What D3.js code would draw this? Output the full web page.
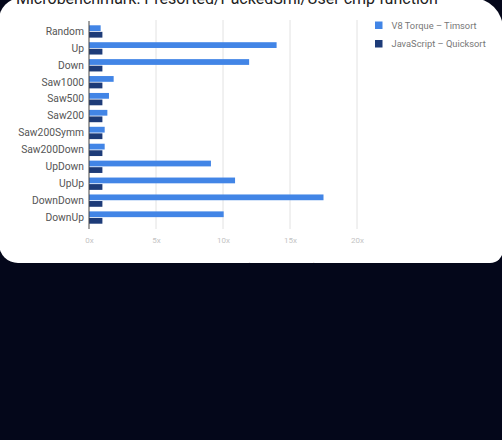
<!DOCTYPE html>
<html>
<head>
<meta charset="utf-8">
<script src="https://cdn.jsdelivr.net/npm/d3@7"></script>
<style>
  html, body { margin: 0; padding: 0; background: #04071a; }
  svg { display: block; font-family: Roboto, "Noto Sans", sans-serif; }
</style>
</head>
<body>
<svg id="chart" width="502" height="440"></svg>
<script>
// data (speedup relative to quicksort)
const categories = ['Random', 'Up', 'Down', 'Saw1000', 'Saw500', 'Saw200', 'Saw200Symm',
  'Saw200Down', 'UpDown', 'UpUp', 'DownDown', 'DownUp']
const timsort = [0.87, 14.0, 11.95, 1.84, 1.49, 1.37, 1.17, 1.17, 9.1, 10.9, 17.5, 10.05]
const quicksort = [1, 1, 1, 1, 1, 1, 1, 1, 1, 1, 1, 1]
const seriesNames = ['V8 Torque – Timsort', 'JavaScript – Quicksort']
const seriesColors = ['#4285e6', '#1d3b78']
const xTicks = [0, 5, 10, 15, 20]

const svg = d3.select('#chart')

// dark slide background
svg.append('rect')
  .attr('width', 502).attr('height', 440)
  .attr('fill', '#04071a')

// white card, corners a bit uneven like the photographed slide
const card = d3.path()
card.moveTo(-1, 20)
card.arcTo(-1, -2, 21, -2, 22)
card.lineTo(472, -2)
card.arcTo(503, -2, 503, 29, 31)
card.lineTo(503, 250)
card.arcTo(503, 263, 490, 263, 13)
card.lineTo(18, 263)
card.arcTo(-1, 263, -1, 244, 19)
card.closePath()
svg.append('path')
  .attr('d', card.toString())
  .attr('fill', '#ffffff')

// title, cut at the top like the slide
svg.append('text')
  .attr('x', 16).attr('y', 4)
  .attr('font-size', 16)
  .attr('fill', '#222')
  .text('Microbenchmark: Presorted/PackedSmi/User cmp function')

const x = d3.scaleLinear().domain([0, 20]).range([89, 357])
const y = d3.scaleBand().domain(categories).range([23, 226])
const sub = d3.scaleBand().domain([0, 1]).range([0, y.bandwidth()]).paddingInner(0.12).paddingOuter(0.35)

// gridlines
svg.append('g').selectAll('line')
  .data(xTicks.slice(1))
  .enter()
  .append('line')
  .attr('x1', d => x(d)).attr('x2', d => x(d))
  .attr('y1', 20).attr('y2', 229)
  .attr('stroke', '#e2e2e2')
  .attr('stroke-width', 1)

// bars
const groups = svg.append('g').selectAll('g')
  .data(categories)
  .enter()
  .append('g')
  .attr('transform', d => `translate(0,${y(d)})`)

groups.append('rect')
  .attr('x', x(0))
  .attr('y', sub(0))
  .attr('width', (d, i) => x(timsort[i]) - x(0))
  .attr('height', sub.bandwidth())
  .attr('fill', seriesColors[0])

groups.append('rect')
  .attr('x', x(0))
  .attr('y', sub(1))
  .attr('width', (d, i) => x(quicksort[i]) - x(0))
  .attr('height', sub.bandwidth())
  .attr('fill', seriesColors[1])

// y axis
const yAxis = svg.append('g')
  .attr('transform', `translate(${x(0)},0)`)
  .call(d3.axisLeft(y).tickSize(0).tickPadding(5))
yAxis.select('.domain').attr('stroke', '#444').attr('d', 'M0,21V229')
yAxis.selectAll('text').attr('font-size', 10.3).attr('fill', '#555').attr('font-family', 'Roboto, sans-serif')

// x axis labels
const xAxis = svg.append('g')
  .attr('transform', 'translate(0,229)')
  .call(d3.axisBottom(x).tickValues(xTicks).tickFormat(d => d + 'x').tickSize(0).tickPadding(8))
xAxis.select('.domain').remove()
xAxis.selectAll('text').attr('font-size', 8).attr('fill', '#c4c4c4').attr('font-family', 'Roboto, sans-serif')

// x axis title (mostly hidden by the dark area)
svg.append('text')
  .attr('x', 223).attr('y', 270)
  .attr('text-anchor', 'middle')
  .attr('font-size', 9.5)
  .attr('fill', '#777')
  .text('Speedup of Torque Timsort (higher is better)')

// legend
const legend = svg.append('g').selectAll('g')
  .data(seriesNames)
  .enter()
  .append('g')
  .attr('transform', (d, i) => `translate(375,${21.5 + i * 18.5})`)
legend.append('rect')
  .attr('width', 7.5).attr('height', 7.5)
  .attr('fill', (d, i) => seriesColors[i])
legend.append('text')
  .attr('x', 16.5).attr('y', 7)
  .attr('font-size', 9.3)
  .attr('fill', '#777')
  .text(d => d)

// dark lower part of the slide
svg.append('rect')
  .attr('x', 0).attr('y', 263)
  .attr('width', 502).attr('height', 177)
  .attr('fill', '#04071a')
</script>
</body>
</html>
